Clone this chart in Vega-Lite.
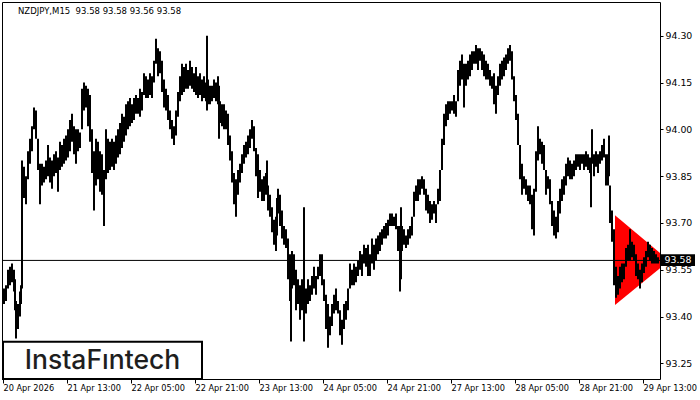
{
  "$schema": "https://vega.github.io/schema/vega-lite/v6.json",
  "width": 658,
  "height": 377,
  "autosize": {"type": "none"},
  "padding": {"top": 2, "left": 2, "right": 40, "bottom": 21},
  "background": "white",
  "config": {
    "view": {"stroke": "#000", "strokeWidth": 1},
    "axis": {"domain": false, "grid": false, "tickColor": "#000", "labelColor": "#000", "labelFont": "DejaVu Sans", "title": null}
  },
  "datasets": {
    "bars": [
      {"x":4,"h":93.49,"l":93.44},{"x":6,"h":93.50,"l":93.45},{"x":8,"h":93.55,"l":93.49},{"x":10,"h":93.56,"l":93.50},
      {"x":12,"h":93.57,"l":93.51},{"x":14,"h":93.55,"l":93.48},{"x":15,"h":93.52,"l":93.42},{"x":16,"h":93.45,"l":93.33},
      {"x":18,"h":93.44,"l":93.36},{"x":20,"h":93.48,"l":93.40},{"x":21,"h":93.50,"l":93.44},{"x":22,"h":93.90,"l":93.49},
      {"x":24,"h":93.88,"l":93.78},{"x":26,"h":93.85,"l":93.76},{"x":28,"h":93.93,"l":93.84},{"x":30,"h":93.97,"l":93.89},
      {"x":32,"h":94.01,"l":93.93},{"x":34,"h":94.07,"l":94.00},{"x":36,"h":94.06,"l":93.97},{"x":38,"h":93.97,"l":93.87},
      {"x":40,"h":93.89,"l":93.76},{"x":42,"h":93.89,"l":93.82},{"x":44,"h":93.88,"l":93.83},{"x":46,"h":93.90,"l":93.84},
      {"x":48,"h":93.95,"l":93.85},{"x":50,"h":93.91,"l":93.83},{"x":52,"h":93.90,"l":93.81},{"x":54,"h":93.92,"l":93.85},
      {"x":56,"h":93.93,"l":93.86},{"x":58,"h":93.91,"l":93.80},{"x":60,"h":93.96,"l":93.87},{"x":62,"h":93.95,"l":93.88},
      {"x":64,"h":93.97,"l":93.89},{"x":66,"h":93.98,"l":93.90},{"x":68,"h":94.00,"l":93.91},{"x":70,"h":94.03,"l":93.93},
      {"x":72,"h":94.05,"l":93.96},{"x":74,"h":94.01,"l":93.92},{"x":76,"h":94.00,"l":93.89},{"x":78,"h":94.00,"l":93.93},
      {"x":80,"h":93.99,"l":93.94},{"x":82,"h":94.13,"l":94.00},{"x":84,"h":94.15,"l":94.06},{"x":86,"h":94.14,"l":94.07},
      {"x":88,"h":94.13,"l":94.01},{"x":90,"h":94.11,"l":93.96},{"x":92,"h":94.00,"l":93.86},{"x":94,"h":93.93,"l":93.74},
      {"x":96,"h":93.97,"l":93.82},{"x":98,"h":93.96,"l":93.84},{"x":100,"h":93.93,"l":93.80},{"x":102,"h":93.92,"l":93.79},
      {"x":104,"h":93.87,"l":93.69},{"x":106,"h":94.00,"l":93.84},{"x":108,"h":93.97,"l":93.86},{"x":110,"h":93.96,"l":93.87},
      {"x":112,"h":93.97,"l":93.88},{"x":114,"h":93.96,"l":93.87},{"x":116,"h":93.98,"l":93.89},{"x":118,"h":94.00,"l":93.91},
      {"x":120,"h":94.02,"l":93.92},{"x":122,"h":94.05,"l":93.94},{"x":124,"h":94.04,"l":93.96},{"x":126,"h":94.08,"l":93.98},
      {"x":128,"h":94.09,"l":94.00},{"x":130,"h":94.10,"l":94.01},{"x":132,"h":94.08,"l":94.02},{"x":134,"h":94.10,"l":94.03},
      {"x":136,"h":94.11,"l":94.05},{"x":138,"h":94.10,"l":94.05},{"x":140,"h":94.13,"l":94.04},{"x":142,"h":94.12,"l":94.06},
      {"x":144,"h":94.18,"l":94.11},{"x":146,"h":94.17,"l":94.10},{"x":148,"h":94.16,"l":94.10},{"x":150,"h":94.18,"l":94.11},
      {"x":152,"h":94.17,"l":94.10},{"x":154,"h":94.22,"l":94.15},{"x":156,"h":94.29,"l":94.21},{"x":158,"h":94.26,"l":94.17},
      {"x":160,"h":94.25,"l":94.18},{"x":162,"h":94.22,"l":94.12},{"x":164,"h":94.16,"l":94.07},{"x":166,"h":94.13,"l":94.06},
      {"x":168,"h":94.11,"l":94.03},{"x":170,"h":94.06,"l":94.00},{"x":172,"h":94.03,"l":93.97},{"x":174,"h":94.01,"l":93.95},
      {"x":176,"h":94.06,"l":93.98},{"x":178,"h":94.12,"l":94.04},{"x":180,"h":94.17,"l":94.09},{"x":182,"h":94.21,"l":94.11},
      {"x":184,"h":94.20,"l":94.12},{"x":186,"h":94.21,"l":94.13},{"x":188,"h":94.19,"l":94.13},{"x":190,"h":94.22,"l":94.14},
      {"x":192,"h":94.20,"l":94.13},{"x":194,"h":94.18,"l":94.12},{"x":196,"h":94.20,"l":94.11},{"x":198,"h":94.17,"l":94.10},
      {"x":200,"h":94.18,"l":94.11},{"x":202,"h":94.16,"l":94.09},{"x":204,"h":94.17,"l":94.10},{"x":206,"h":94.15,"l":94.09},
      {"x":207,"h":94.30,"l":94.06},{"x":208,"h":94.16,"l":94.08},{"x":210,"h":94.14,"l":94.08},{"x":212,"h":94.14,"l":94.09},
      {"x":214,"h":94.16,"l":94.10},{"x":216,"h":94.15,"l":94.09},{"x":218,"h":94.17,"l":94.08},{"x":219,"h":94.14,"l":93.97},
      {"x":220,"h":94.09,"l":94.02},{"x":222,"h":94.08,"l":94.01},{"x":224,"h":94.08,"l":94.00},{"x":226,"h":94.06,"l":94.00},
      {"x":228,"h":94.05,"l":93.95},{"x":230,"h":93.98,"l":93.90},{"x":232,"h":93.93,"l":93.83},{"x":234,"h":93.86,"l":93.76},
      {"x":236,"h":93.84,"l":93.72},{"x":238,"h":93.87,"l":93.79},{"x":240,"h":93.89,"l":93.83},{"x":242,"h":93.92,"l":93.86},
      {"x":244,"h":93.95,"l":93.89},{"x":246,"h":93.96,"l":93.91},{"x":248,"h":93.98,"l":93.92},{"x":250,"h":94.00,"l":93.94},
      {"x":252,"h":94.03,"l":93.97},{"x":254,"h":94.01,"l":93.93},{"x":256,"h":93.94,"l":93.85},{"x":258,"h":93.92,"l":93.78},
      {"x":260,"h":93.87,"l":93.80},{"x":262,"h":93.84,"l":93.77},{"x":264,"h":93.85,"l":93.77},{"x":266,"h":93.86,"l":93.79},
      {"x":267,"h":93.90,"l":93.80},{"x":268,"h":93.82,"l":93.74},{"x":270,"h":93.79,"l":93.72},{"x":272,"h":93.75,"l":93.67},
      {"x":274,"h":93.71,"l":93.63},{"x":276,"h":93.72,"l":93.61},{"x":277,"h":93.78,"l":93.66},{"x":278,"h":93.81,"l":93.73},
      {"x":280,"h":93.79,"l":93.69},{"x":282,"h":93.74,"l":93.65},{"x":284,"h":93.69,"l":93.63},{"x":286,"h":93.68,"l":93.62},
      {"x":288,"h":93.65,"l":93.52},{"x":290,"h":93.60,"l":93.45},{"x":291,"h":93.58,"l":93.32},{"x":292,"h":93.61,"l":93.49},
      {"x":294,"h":93.60,"l":93.50},{"x":296,"h":93.55,"l":93.42},{"x":298,"h":93.52,"l":93.44},{"x":300,"h":93.50,"l":93.39},
      {"x":302,"h":93.52,"l":93.42},{"x":304,"h":93.75,"l":93.32},{"x":306,"h":93.49,"l":93.41},{"x":308,"h":93.52,"l":93.44},
      {"x":310,"h":93.50,"l":93.45},{"x":312,"h":93.53,"l":93.47},{"x":314,"h":93.56,"l":93.49},{"x":316,"h":93.53,"l":93.47},
      {"x":318,"h":93.56,"l":93.52},{"x":320,"h":93.60,"l":93.53},{"x":322,"h":93.60,"l":93.50},{"x":324,"h":93.52,"l":93.45},
      {"x":326,"h":93.47,"l":93.36},{"x":328,"h":93.44,"l":93.30},{"x":330,"h":93.40,"l":93.34},{"x":332,"h":93.44,"l":93.37},
      {"x":334,"h":93.47,"l":93.41},{"x":336,"h":93.49,"l":93.42},{"x":338,"h":93.45,"l":93.41},{"x":340,"h":93.42,"l":93.34},
      {"x":342,"h":93.39,"l":93.31},{"x":344,"h":93.44,"l":93.36},{"x":346,"h":93.45,"l":93.39},{"x":348,"h":93.49,"l":93.42},
      {"x":350,"h":93.57,"l":93.49},{"x":352,"h":93.55,"l":93.50},{"x":354,"h":93.57,"l":93.50},{"x":356,"h":93.56,"l":93.51},
      {"x":358,"h":93.58,"l":93.53},{"x":360,"h":93.61,"l":93.55},{"x":362,"h":93.60,"l":93.53},{"x":364,"h":93.63,"l":93.57},
      {"x":366,"h":93.62,"l":93.56},{"x":368,"h":93.63,"l":93.53},{"x":370,"h":93.60,"l":93.53},{"x":372,"h":93.65,"l":93.57},
      {"x":374,"h":93.63,"l":93.55},{"x":376,"h":93.65,"l":93.58},{"x":378,"h":93.66,"l":93.60},{"x":380,"h":93.67,"l":93.61},
      {"x":382,"h":93.68,"l":93.63},{"x":384,"h":93.69,"l":93.65},{"x":386,"h":93.70,"l":93.65},{"x":388,"h":93.71,"l":93.66},
      {"x":390,"h":93.73,"l":93.69},{"x":392,"h":93.73,"l":93.69},{"x":394,"h":93.72,"l":93.69},{"x":396,"h":93.73,"l":93.68},
      {"x":398,"h":93.69,"l":93.61},{"x":400,"h":93.69,"l":93.48},{"x":401,"h":93.75,"l":93.52},{"x":402,"h":93.69,"l":93.61},
      {"x":404,"h":93.68,"l":93.63},{"x":406,"h":93.66,"l":93.62},{"x":408,"h":93.68,"l":93.63},{"x":410,"h":93.69,"l":93.65},
      {"x":412,"h":93.72,"l":93.66},{"x":414,"h":93.80,"l":93.72},{"x":416,"h":93.82,"l":93.77},{"x":418,"h":93.84,"l":93.77},
      {"x":420,"h":93.84,"l":93.79},{"x":422,"h":93.85,"l":93.81},{"x":424,"h":93.84,"l":93.79},{"x":426,"h":93.81,"l":93.74},
      {"x":428,"h":93.79,"l":93.73},{"x":430,"h":93.77,"l":93.70},{"x":432,"h":93.76,"l":93.71},{"x":434,"h":93.77,"l":93.73},
      {"x":436,"h":93.76,"l":93.70},{"x":438,"h":93.81,"l":93.76},{"x":440,"h":93.87,"l":93.77},{"x":442,"h":93.97,"l":93.87},
      {"x":444,"h":94.05,"l":93.95},{"x":446,"h":94.08,"l":94.01},{"x":448,"h":94.09,"l":94.03},{"x":450,"h":94.09,"l":94.05},
      {"x":452,"h":94.09,"l":94.06},{"x":454,"h":94.11,"l":94.05},{"x":456,"h":94.09,"l":94.04},{"x":458,"h":94.19,"l":94.09},
      {"x":460,"h":94.22,"l":94.14},{"x":462,"h":94.24,"l":94.16},{"x":464,"h":94.21,"l":94.07},{"x":466,"h":94.21,"l":94.14},
      {"x":468,"h":94.22,"l":94.16},{"x":470,"h":94.24,"l":94.17},{"x":472,"h":94.25,"l":94.19},{"x":474,"h":94.25,"l":94.21},
      {"x":476,"h":94.27,"l":94.21},{"x":478,"h":94.26,"l":94.19},{"x":480,"h":94.26,"l":94.22},{"x":482,"h":94.25,"l":94.19},
      {"x":484,"h":94.24,"l":94.17},{"x":486,"h":94.22,"l":94.16},{"x":488,"h":94.21,"l":94.16},{"x":490,"h":94.19,"l":94.14},
      {"x":492,"h":94.17,"l":94.13},{"x":494,"h":94.18,"l":94.08},{"x":496,"h":94.14,"l":94.05},{"x":498,"h":94.17,"l":94.11},
      {"x":500,"h":94.21,"l":94.14},{"x":502,"h":94.22,"l":94.16},{"x":504,"h":94.23,"l":94.17},{"x":506,"h":94.24,"l":94.19},
      {"x":508,"h":94.26,"l":94.21},{"x":510,"h":94.27,"l":94.22},{"x":512,"h":94.25,"l":94.16},{"x":514,"h":94.17,"l":94.09},
      {"x":516,"h":94.11,"l":94.03},{"x":518,"h":94.05,"l":93.95},{"x":520,"h":93.95,"l":93.84},{"x":522,"h":93.89,"l":93.79},
      {"x":524,"h":93.85,"l":93.81},{"x":526,"h":93.84,"l":93.79},{"x":528,"h":93.82,"l":93.77},{"x":530,"h":93.82,"l":93.76},
      {"x":532,"h":93.79,"l":93.68},{"x":534,"h":93.81,"l":93.66},{"x":536,"h":93.93,"l":93.80},{"x":538,"h":94.01,"l":93.90},
      {"x":540,"h":93.97,"l":93.92},{"x":542,"h":93.96,"l":93.89},{"x":544,"h":93.95,"l":93.87},{"x":546,"h":93.87,"l":93.79},
      {"x":548,"h":93.85,"l":93.81},{"x":550,"h":93.84,"l":93.76},{"x":552,"h":93.77,"l":93.69},{"x":554,"h":93.74,"l":93.66},
      {"x":556,"h":93.72,"l":93.65},{"x":558,"h":93.77,"l":93.67},{"x":560,"h":93.81,"l":93.73},{"x":562,"h":93.84,"l":93.77},
      {"x":564,"h":93.85,"l":93.79},{"x":566,"h":93.89,"l":93.82},{"x":568,"h":93.91,"l":93.85},{"x":570,"h":93.90,"l":93.84},
      {"x":572,"h":93.89,"l":93.84},{"x":574,"h":93.90,"l":93.85},{"x":576,"h":93.92,"l":93.87},{"x":578,"h":93.92,"l":93.88},
      {"x":580,"h":93.92,"l":93.87},{"x":582,"h":93.92,"l":93.89},{"x":584,"h":93.92,"l":93.87},{"x":586,"h":93.93,"l":93.88},
      {"x":588,"h":93.92,"l":93.87},{"x":590,"h":93.91,"l":93.86},{"x":591,"h":93.90,"l":93.75},{"x":592,"h":94.00,"l":93.89},
      {"x":594,"h":93.92,"l":93.85},{"x":596,"h":93.93,"l":93.88},{"x":598,"h":93.92,"l":93.86},{"x":600,"h":93.93,"l":93.89},
      {"x":602,"h":93.95,"l":93.90},{"x":604,"h":93.97,"l":93.91},{"x":606,"h":93.92,"l":93.82},{"x":608,"h":93.92,"l":93.82},
      {"x":609,"h":93.98,"l":93.85},{"x":610,"h":93.82,"l":93.70},{"x":612,"h":93.74,"l":93.64},{"x":614,"h":93.68,"l":93.50},
      {"x":616,"h":93.56,"l":93.46},{"x":618,"h":93.53,"l":93.47},{"x":620,"h":93.56,"l":93.49},{"x":622,"h":93.57,"l":93.51},
      {"x":624,"h":93.57,"l":93.52},{"x":626,"h":93.62,"l":93.56},{"x":628,"h":93.63,"l":93.58},{"x":630,"h":93.68,"l":93.58},
      {"x":632,"h":93.64,"l":93.59},{"x":634,"h":93.63,"l":93.58},{"x":636,"h":93.60,"l":93.53},{"x":638,"h":93.57,"l":93.52},
      {"x":640,"h":93.55,"l":93.49},{"x":642,"h":93.57,"l":93.51},{"x":644,"h":93.59,"l":93.54},{"x":646,"h":93.61,"l":93.56},
      {"x":648,"h":93.64,"l":93.59},{"x":650,"h":93.63,"l":93.58},{"x":652,"h":93.62,"l":93.57},{"x":654,"h":93.61,"l":93.57},
      {"x":656,"h":93.60,"l":93.57},{"x":658,"h":93.59,"l":93.57}
    ],
    "tri": [
      {"x": 615, "h": 93.725, "l": 93.437},
      {"x": 660, "h": 93.604, "l": 93.555}
    ]
  },
  "layer": [
    {
      "data": {"name": "tri"},
      "mark": {"type": "area", "color": "#ff0000", "opacity": 1, "interpolate": "linear"},
      "encoding": {
        "x": {"field": "x", "type": "quantitative", "scale": {"domain": [2, 660], "nice": false, "zero": false},
          "axis": {"orient": "bottom", "values": [3, 67, 131, 195, 259, 323, 387, 451, 515, 579, 643],
            "labelExpr": "['20 Apr 2026','21 Apr 13:00','22 Apr 05:00','22 Apr 21:00','23 Apr 13:00','24 Apr 05:00','24 Apr 21:00','27 Apr 13:00','28 Apr 05:00','28 Apr 21:00','29 Apr 13:00'][round((datum.value-3)/64)]",
            "labelAlign": "left", "labelFontSize": 8.2, "tickSize": 4, "labelPadding": 1, "labelFlush": false, "labelOverlap": false}},
        "y": {"field": "h", "type": "quantitative", "scale": {"domain": [93.2, 94.408], "nice": false, "zero": false},
          "axis": {"orient": "right", "values": [93.25, 93.4, 93.55, 93.7, 93.85, 94.0, 94.15, 94.3], "format": ".2f",
            "tickSize": 3, "labelPadding": 2, "labelFontSize": 9.4, "labelBaseline": "middle", "labelOverlap": false}},
        "y2": {"field": "l"}
      }
    },
    {
      "data": {"values": [{}]},
      "mark": {"type": "rule", "color": "#000", "strokeWidth": 1},
      "encoding": {"y": {"datum": 93.58, "type": "quantitative"}}
    },
    {
      "data": {"name": "bars"},
      "mark": {"type": "rule", "color": "#000", "strokeWidth": 2},
      "encoding": {
        "x": {"field": "x", "type": "quantitative"},
        "y": {"field": "h", "type": "quantitative"},
        "y2": {"field": "l"}
      }
    },
    {
      "data": {"values": [{}]},
      "mark": {"type": "rect", "fill": "#ffffff", "stroke": "#000", "strokeWidth": 2},
      "encoding": {
        "x": {"datum": 3, "type": "quantitative"}, "x2": {"datum": 202},
        "y": {"datum": 93.319, "type": "quantitative"}, "y2": {"datum": 93.2}
      }
    },
    {
      "data": {"values": [{}]},
      "mark": {"type": "text", "text": "InstaF\u0131ntech", "font": "Inter", "fontSize": 26.5, "fontWeight": 500, "color": "#1e1e1e", "align": "center", "baseline": "middle"},
      "encoding": {"x": {"datum": 102.5, "type": "quantitative"}, "y": {"datum": 93.257, "type": "quantitative"}}
    },
    {
      "data": {"values": [{}]},
      "mark": {"type": "rect", "fill": "#000000", "clip": false},
      "encoding": {
        "x": {"datum": 661, "type": "quantitative"}, "x2": {"datum": 695},
        "y": {"datum": 93.6, "type": "quantitative"}, "y2": {"datum": 93.562}
      }
    },
    {
      "data": {"values": [{}]},
      "mark": {"type": "text", "text": "93.58", "font": "DejaVu Sans", "fontSize": 9.4, "color": "#ffffff", "align": "center", "baseline": "middle", "clip": false},
      "encoding": {"x": {"datum": 678, "type": "quantitative"}, "y": {"datum": 93.58, "type": "quantitative"}}
    },
    {
      "data": {"values": [{}]},
      "mark": {"type": "text", "text": "NZDJPY,M15\u00a0 93.58 93.58 93.56 93.58", "font": "DejaVu Sans", "fontSize": 8.5, "color": "#000000", "align": "left", "baseline": "middle"},
      "encoding": {"x": {"datum": 18, "type": "quantitative"}, "y": {"datum": 94.38, "type": "quantitative"}}
    }
  ]
}
